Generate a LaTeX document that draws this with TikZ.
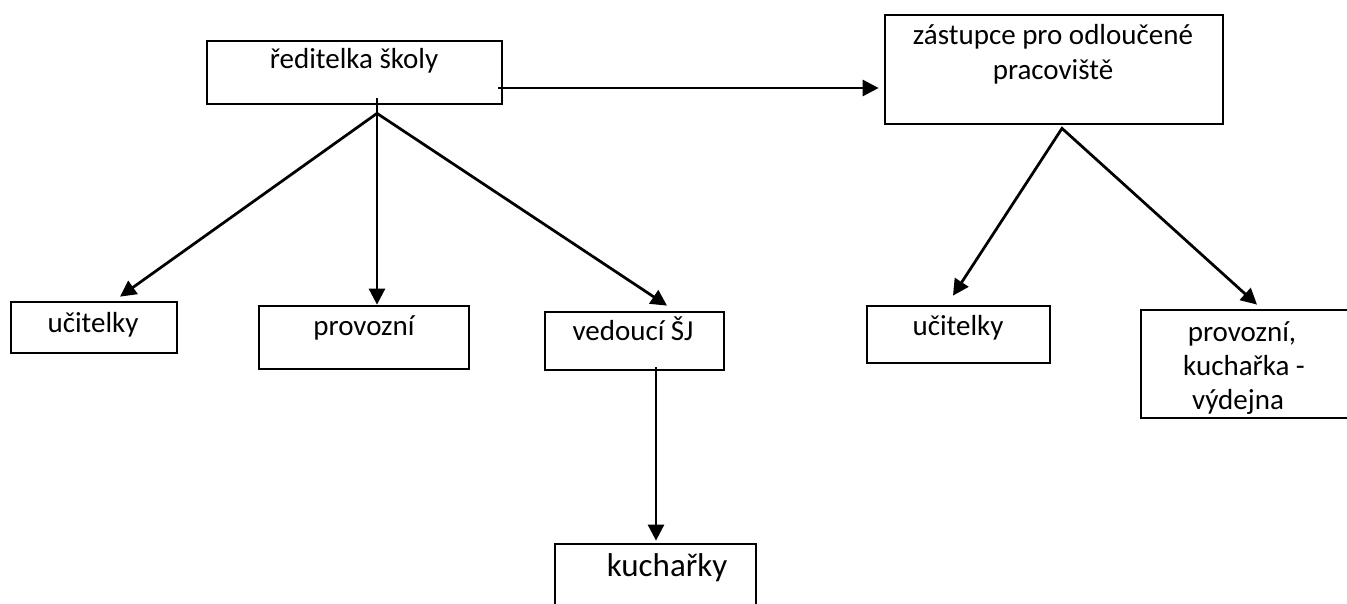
\documentclass[tikz,border=0pt]{standalone}
\usepackage{fontspec}
\setmainfont{Carlito}
\usetikzlibrary{arrows.meta}
\begin{document}
\begin{tikzpicture}[x=1pt,y=-1pt,
  box/.style={draw=black, line width=2.75pt, inner sep=0pt, rectangle},
  txt/.style={inner sep=0pt, font=\fontsize{29}{34.5}\selectfont, align=center},
  ln/.style={line width=2.75pt, line join=miter},
  arr/.style={ln, -{Triangle[length=16pt,width=16pt]}},
  arrs/.style={ln, {Triangle[length=16pt,width=16pt]}-{Triangle[length=16pt,width=16pt]}}]
\useasboundingbox (0,0) rectangle (1347,603);
\clip (0,0) rectangle (1347,603);
\fill[white] (0,0) rectangle (1347,603);

% boxes
\node[box, minimum width=295pt, minimum height=63pt]  (rb)  at (354.5,72.5) {};
\node[box, minimum width=338pt, minimum height=109pt] (zb)  at (1054,69.5) {};
\node[box, minimum width=166pt, minimum height=51pt]  (ub1) at (94,327.5) {};
\node[box, minimum width=210pt, minimum height=63pt]  (pb)  at (364,337.5) {};
\node[box, minimum width=179pt, minimum height=58pt]  (vb)  at (634.5,341) {};
\node[box, minimum width=201pt, minimum height=76pt]  (kb)  at (655.5,582) {};
\node[box, minimum width=183pt, minimum height=57pt]  (ub2) at (958.5,334.5) {};
\node[box, minimum width=209pt, minimum height=108pt] (pk)  at (1245.5,364) {};

% texts
\node[txt, anchor=base] (rbt)  at (354,68)  {ředitelka školy};
\node[txt, anchor=base] (zbt)  at (1053,44) {zástupce pro odloučené};
\node[txt, anchor=base] (zbt2) at (1053,79) {pracoviště};
\node[txt, anchor=base] (ub1t) at (93,332)  {učitelky};
\node[txt, anchor=base] (pbt)  at (364,335) {provozní};
\node[txt, anchor=base] (vbt)  at (633,340) {vedoucí ŠJ};
\node[txt, anchor=base, font=\fontsize{33}{38}\selectfont] (kbt) at (667,576) {kuchařky};
\node[txt, anchor=base] (ub2t) at (958,335) {učitelky};
\node[txt, anchor=base] (pkt1) at (1242,341) {provozní,};
\node[txt, anchor=base] (pkt2) at (1244,375) {kuchařka -};
\node[txt, anchor=base] (pkt3) at (1238,409) {výdejna};

% connectors
\coordinate (s1) at ([xshift=-5pt,yshift=-15.5pt]rb.east);
\draw[arr, shorten >=5pt] (s1) -- (s1 -| zb.west);

\coordinate (s2) at ([xshift=22.5pt,yshift=7pt]rb.south);
\draw[arr] (s2) -- (s2 |- pb.north);

\coordinate (f1) at ([xshift=22.5pt,yshift=-8pt]rb.south);
\draw[arrs] ([xshift=26pt,yshift=4pt]ub1.north) -- (f1) -- ([xshift=32.5pt,yshift=5pt]vb.north);

\coordinate (f2) at ([xshift=8pt,yshift=-3pt]zb.south);
\draw[arrs] ([xshift=-5.5pt,yshift=9pt]ub2.north) -- (f2) -- ([xshift=11.5pt,yshift=4pt]pk.north);

\coordinate (s3) at ([xshift=21.5pt,yshift=4pt]vb.south);
\draw[arr, shorten >=2pt] (s3) -- (s3 |- kb.north);
\end{tikzpicture}
\end{document}
